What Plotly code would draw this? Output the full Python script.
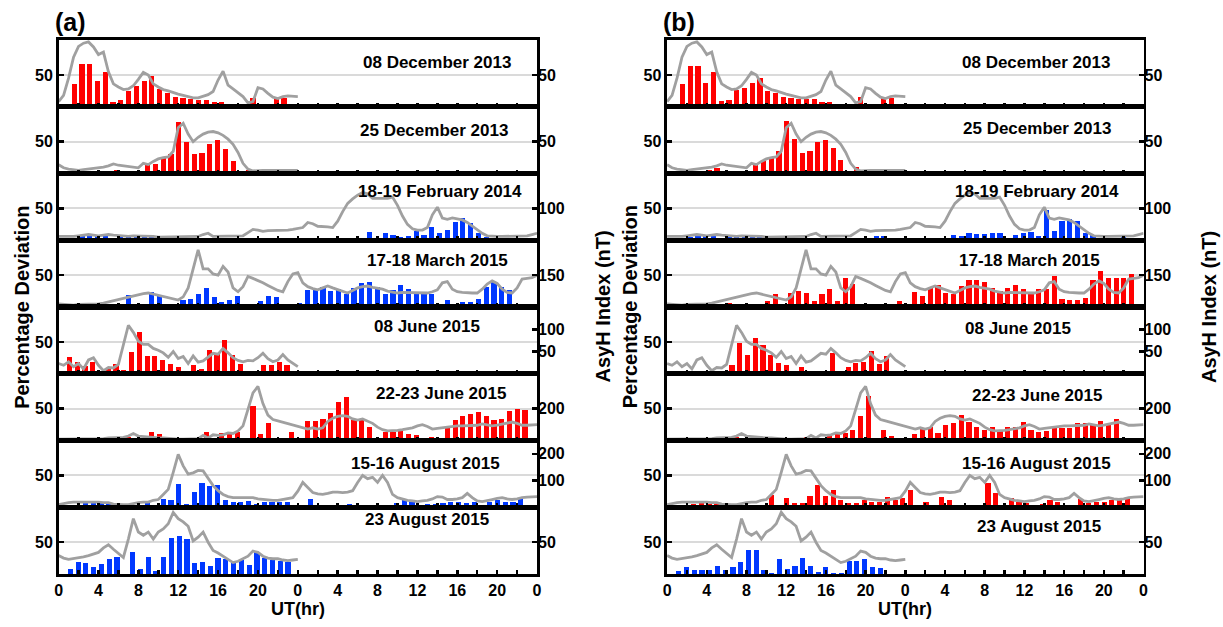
import plotly.graph_objects as go

W, H = 1223, 627

# ---------------- data ----------------
dates = ["08 December 2013", "25 December 2013", "18-19 February 2014", "17-18 March 2015",
         "08 June 2015", "22-23 June 2015", "15-16 August 2015", "23 August 2015"]
ndays = [1, 1, 2, 2, 1, 2, 2, 1]
asyh_max = [105, 105, 210, 315, 150, 420, 250, 105]
asyh_ticks = [[50], [50], [100], [150], [50, 100], [200], [100, 200], [50]]
bar_t0 = [0.0, 0.35, 0.0, 0.0, 0.3, 0.0, 0.35, 0.4]
colors_a = ["red", "red", "blue", "blue", "red", "red", "blue", "blue"]
colors_b = ["red", "red", "blue", "red", "red", "red", "red", "blue"]

# AsyH index (nT), half-hourly samples from 0 UT
asyh_1 = [8, 18, 45, 78, 95, 100, 102, 94, 82, 86, 55, 36, 31, 27, 28, 33, 43, 54, 50, 36,
          31, 27, 25, 22, 20, 18, 16, 14, 14, 16, 19, 24, 42, 56, 34, 28, 22, 16, 6, 8,
          30, 28, 21, 15, 13, 16, 17, 17, 16]
asyh_2 = [14, 9, 7, 6, 5, 6, 7, 8, 8, 10, 12, 15, 13, 12, 11, 10, 9, 16, 14, 19,
          23, 25, 26, 35, 72, 79, 62, 50, 57, 62, 65, 66, 64, 60, 54, 46, 33, 16, 7, 4,
          5, 5, 5, 5, 5, 6, 5, 5, 5]
asyh_3 = [12, 12, 10, 12, 14, 16, 18, 16, 14, 16, 18, 16, 14, 12, 12, 14, 14, 12, 12, 12,
          10, 10, 12, 12, 12, 10, 10, 10, 12, 18, 22, 12, 12, 14, 14, 14, 14, 14, 24, 34,
          32, 28, 30, 30, 30, 32, 32, 34, 36, 40, 56, 52, 44, 44, 42, 40, 60, 90, 116, 130,
          142, 150, 146, 132, 132, 134, 132, 136, 110, 76, 50, 36, 32, 32, 40, 80, 104, 70, 66, 70,
          68, 64, 56, 44, 32, 22, 14, 12, 12, 12, 12, 12, 12, 14, 14, 18, 22]
asyh_4 = [15, 12, 9, 9, 12, 12, 15, 15, 15, 18, 24, 27, 33, 39, 48, 51, 57, 63, 66, 60,
          57, 48, 42, 36, 33, 48, 90, 180, 270, 180, 180, 156, 150, 192, 165, 90, 72, 96, 144, 135,
          126, 114, 102, 90, 78, 72, 120, 156, 162, 114, 96, 87, 81, 90, 99, 90, 81, 75, 66, 78,
          90, 96, 99, 93, 90, 84, 75, 69, 66, 69, 69, 69, 66, 66, 66, 72, 81, 114, 120, 84,
          72, 69, 66, 66, 66, 84, 108, 123, 111, 84, 69, 66, 90, 132, 135, 138, 150]
asyh_5 = [23, 19, 27, 16, 23, 11, 31, 36, 19, 7, 14, 13, 21, 64, 109, 93, 73, 66, 66, 57,
          53, 47, 37, 50, 34, 39, 23, 40, 26, 29, 37, 46, 44, 57, 47, 36, 30, 27, 30, 29,
          36, 46, 34, 27, 31, 43, 31, 23, 16]
asyh_6 = [8, 8, 8, 8, 8, 8, 12, 12, 12, 12, 16, 16, 16, 20, 28, 44, 28, 24, 24, 20,
          16, 16, 12, 12, 8, 8, 8, 12, 12, 32, 16, 36, 32, 36, 48, 44, 60, 92, 192, 300,
          340, 232, 160, 132, 124, 116, 108, 100, 92, 80, 72, 80, 72, 80, 120, 140, 152, 156, 152, 136,
          128, 136, 124, 108, 84, 68, 60, 60, 64, 68, 72, 80, 92, 100, 88, 72, 76, 80, 84, 92,
          92, 92, 92, 92, 96, 104, 100, 92, 96, 104, 108, 116, 108, 96, 96, 100, 100]
asyh_7 = [10, 14, 17, 19, 19, 21, 21, 19, 19, 17, 17, 12, 10, 10, 10, 14, 17, 19, 19, 26,
          29, 48, 67, 131, 198, 155, 124, 129, 138, 136, 107, 81, 62, 48, 40, 36, 36, 36, 36, 36,
          31, 29, 26, 26, 26, 29, 31, 36, 60, 93, 74, 55, 50, 48, 52, 57, 57, 55, 57, 62,
          93, 119, 107, 112, 93, 119, 93, 48, 36, 31, 26, 24, 21, 24, 26, 31, 40, 38, 29, 29,
          31, 36, 52, 36, 24, 21, 24, 29, 33, 36, 31, 29, 31, 36, 38, 40, 40]
asyh_8 = [29, 25, 23, 24, 25, 27, 29, 31, 34, 41, 46, 39, 32, 26, 55, 87, 66, 61, 66, 55,
          66, 71, 79, 97, 87, 82, 75, 52, 58, 66, 50, 37, 33, 28, 23, 18, 20, 24, 28, 36,
          34, 28, 25, 24, 24, 22, 21, 22, 23]

# Percentage deviation, panel (a)
pct_a_1 = [0, 0, 36, 68, 68, 41, 55, 8, 10, 25, 32, 40, 48, 28, 21, 15, 13, 12, 11, 11, 8, 8, 4, 0, 0, 14, 0, 0, 13, 13, 0]
pct_a_2 = [0, 0, 3, 3, 4, 4, 0, 6, 0, 3, 0, 13, 15, 25, 30, 81, 50, 30, 33, 47, 52, 38, 20, 0, 6, 5, 5, 5, 6, 6, 0]
pct_a_3 = [0, 0, 4, 6, 8, 8, 6, 4, 5, 7, 8, 6, 7, 7, 6, 4, 0, 0, 0, 0,
           2, 0, 0, 0, 0, 3, 0, 0, 0, 0, 0, 2, 0, 2, 0, 0, 3, 0, 0, 4,
           13, 4, 11, 8, 5, 7, 14, 8, 21, 12, 16, 28, 35, 27, 12, 5, 0, 0, 0, 0, 0, 0]
pct_a_4 = [0, 0, 0, 0, 0, 0, 0, 0, 0, 19, 5, 5, 24, 18, 0, 0, 11, 12, 21, 30,
           15, 8, 11, 17, 5, 4, 9, 17, 15, 0, 5, 7, 27, 27, 32, 25, 28, 21, 30, 37,
           40, 32, 20, 27, 35, 28, 21, 21, 20, 4, 11, 0, 8, 8, 13, 32, 39, 32, 27, 0, 0, 0]
pct_a_5 = [0, 27, 18, 12, 19, 0, 7, 15, 6, 35, 66, 28, 28, 22, 16, 11, 0, 14, 8, 37, 32, 53, 30, 15, 3, 0, 13, 13, 19, 13, 0]
pct_a_6 = [0, 0, 0, 0, 0, 0, 0, 4, 0, 6, 0, 4, 13, 10, 6, 4, 3, 3, 0, 14,
           0, 12, 12, 14, 0, 55, 10, 28, 0, 3, 14, 0, 31, 30, 34, 44, 60, 69, 32, 34,
           22, 0, 13, 13, 17, 10, 8, 3, 6, 0, 20, 33, 38, 42, 45, 39, 32, 34, 47, 50, 48, 0]
pct_a_7 = [0, 2, 4, 7, 7, 7, 5, 2, 0, 0, 2, 6, 0, 13, 12, 37, 5, 24, 38, 34,
           35, 12, 8, 8, 10, 5, 8, 8, 8, 8, 0, 2, 13, 4, 2, 0, 0, 5, 4, 1,
           4, 4, 0, 7, 12, 8, 4, 5, 5, 7, 8, 8, 7, 8, 0, 8, 11, 9, 9, 13, 0, 0]
pct_a_8 = [0, 8, 19, 17, 11, 15, 24, 26, 0, 35, 8, 27, 4, 27, 56, 59, 55, 17, 19, 12, 25, 24, 17, 22, 14, 34, 25, 22, 21, 19, 0]

# Percentage deviation, panel (b)
pct_b_1 = [0, 0, 36, 64, 64, 38, 54, 9, 10, 26, 29, 37, 45, 25, 22, 15, 13, 12, 12, 12, 8, 8, 5, 0, 0, 15, 0, 0, 14, 14, 0]
pct_b_2 = [0, 1, 3, 3, 3, 5, 8, 0, 3, 4, 0, 16, 19, 26, 35, 83, 55, 33, 35, 50, 53, 40, 22, 0, 11, 4, 3, 3, 7, 7, 0]
pct_b_3 = [0, 0, 3, 5, 6, 7, 6, 4, 5, 6, 5, 6, 6, 7, 6, 5, 3, 0, 1, 2,
           2, 2, 0, 0, 0, 0, 3, 6, 6, 0, 0, 2, 0, 0, 2, 0, 3, 9, 7, 11,
           10, 10, 12, 11, 0, 9, 12, 13, 6, 47, 15, 30, 33, 31, 12, 8, 4, 3, 4, 5, 4, 0]
pct_b_4 = [0, 0, 0, 0, 0, 0, 3, 5, 7, 3, 4, 0, 5, 10, 20, 5, 22, 25, 22, 9,
           20, 28, 9, 45, 36, 5, 0, 4, 0, 5, 10, 0, 24, 17, 30, 35, 22, 20, 33, 43,
           43, 40, 30, 25, 30, 35, 28, 24, 28, 28, 48, 12, 11, 11, 14, 43, 57, 45, 45, 45, 52, 0]
pct_b_5 = [0, 0, 5, 5, 0, 0, 0, 5, 13, 48, 30, 56, 46, 30, 17, 13, 2, 11, 0, 5, 3, 32, 0, 11, 17, 19, 36, 15, 28, 0, 0]
pct_b_6 = [0, 0, 0, 0, 0, 0, 0, 0, 0, 5, 4, 2, 2, 1, 1, 0, 0, 0, 5, 0,
           0, 7, 10, 12, 17, 38, 70, 4, 16, 7, 4, 0, 11, 20, 22, 12, 24, 27, 40, 29,
           21, 16, 21, 16, 21, 21, 29, 17, 13, 15, 20, 20, 20, 27, 27, 25, 31, 25, 34, 0, 0, 0]
pct_b_7 = [0, 0, 0, 5, 7, 5, 7, 4, 2, 0, 2, 1, 1, 20, 0, 15, 7, 7, 17, 35,
           18, 27, 12, 7, 7, 11, 8, 8, 16, 11, 15, 27, 0, 8, 0, 16, 12, 0, 4, 1,
           0, 38, 23, 4, 15, 9, 7, 4, 5, 12, 8, 4, 2, 13, 7, 8, 8, 11, 11, 16, 0, 0]
pct_b_8 = [0, 4, 11, 6, 6, 6, 13, 6, 11, 19, 37, 38, 6, 2, 24, 8, 13, 25, 12, 3, 11, 2, 2, 21, 21, 23, 11, 9, 0, 0, 0]

asyh = [asyh_1, asyh_2, asyh_3, asyh_4, asyh_5, asyh_6, asyh_7, asyh_8]
pct = [[pct_a_1, pct_a_2, pct_a_3, pct_a_4, pct_a_5, pct_a_6, pct_a_7, pct_a_8],
       [pct_b_1, pct_b_2, pct_b_3, pct_b_4, pct_b_5, pct_b_6, pct_b_7, pct_b_8]]
bar_colors = [colors_a, colors_b]

# ---------------- layout / styling ----------------
BAR_DT = 0.78     # hours between bar bins
BAR_W = 0.52
COLOR = {"red": "#ff0000", "blue": "#0038ff"}
GRAY = "#a0a0a0"
FONT = "Liberation Sans, Arial, Helvetica, sans-serif"
col_x = [(55, 537), (668, 1148)]
TOP, PH = 40.0, 66.75
date_pos = [[(436, 63), (433, 130), (439, 191), (437, 260), (426, 326), (440, 393), (425, 463), (426, 519)],
            [(1040, 63), (1041, 129), (1041, 191), (1033, 260), (1022, 328), (1041, 395), (1040, 463), (1043, 526)]]

fig = go.Figure()
layout = {}
annotations = []

for c in range(2):
    x0, x1 = col_x[c]
    for r in range(8):
        i = c * 8 + r
        n = i + 1
        ns = n + 16
        xname = "xaxis" if n == 1 else f"xaxis{n}"
        yname = "yaxis" if n == 1 else f"yaxis{n}"
        y2name = f"yaxis{ns}"
        xid = "x" if n == 1 else f"x{n}"
        yid = "y" if n == 1 else f"y{n}"
        y2id = f"y{ns}"
        top = TOP + r * PH
        bot = top + PH
        ydom = [1 - bot / H, 1 - top / H]

        tv = list(range(0, 49, 2))
        tt = [str(v % 24) if v % 4 == 0 else "" for v in tv]
        layout[xname] = dict(
            domain=[x0 / W, x1 / W], range=[0, 48], anchor=yid,
            tickvals=tv, ticktext=tt, ticks="inside", ticklen=4, tickwidth=2.5, tickcolor="black",
            showticklabels=(r == 7), tickfont=dict(family=FONT, size=16, color="black", weight="bold"),
            showline=True, linewidth=2.6, linecolor="black", mirror=True,
            showgrid=False, zeroline=False, fixedrange=True)
        layout[yname] = dict(
            domain=ydom, range=[0, 105], anchor=xid,
            tickvals=[50], ticks="inside", ticklen=5, tickwidth=2.5, tickcolor="black",
            tickfont=dict(family=FONT, size=16, color="black", weight="bold"),
            showline=True, linewidth=2.6, linecolor="black", mirror=True,
            showgrid=True, gridcolor="#dadada", gridwidth=2, zeroline=False, fixedrange=True)
        layout[y2name] = dict(
            range=[0, asyh_max[r]], overlaying=yid, side="right", anchor=xid,
            tickvals=asyh_ticks[r], ticks="inside", ticklen=5, tickwidth=2.5, tickcolor="black",
            tickfont=dict(family=FONT, size=16, color="black", weight="bold"),
            showline=False, showgrid=False, zeroline=False, fixedrange=True)

        vals = pct[c][r]
        fig.add_trace(go.Bar(
            x=[bar_t0[r] + k * BAR_DT for k in range(len(vals))], y=vals,
            width=BAR_W, marker=dict(color=COLOR[bar_colors[c][r]], line=dict(width=0)),
            xaxis=xid, yaxis=yid, showlegend=False, hoverinfo="skip"))
        a = asyh[r]
        fig.add_trace(go.Scatter(
            x=[0.5 * j for j in range(len(a))], y=a, mode="lines",
            line=dict(color=GRAY, width=2.8), xaxis=xid, yaxis=y2id, showlegend=False,
            hoverinfo="skip"))

        dx, dy = date_pos[c][r]
        annotations.append(dict(
            text=dates[r], x=dx / W, y=1 - dy / H, xref="paper", yref="paper",
            xanchor="center", yanchor="middle", showarrow=False,
            font=dict(family=FONT, size=17, color="black", weight="bold")))

    # column decorations
    annotations.append(dict(text="(a)" if c == 0 else "(b)", x=(x0 + 12) / W, y=1 - 22 / H,
                            xref="paper", yref="paper", xanchor="center", yanchor="middle",
                            showarrow=False, font=dict(family=FONT, size=25, color="black", weight="bold")))
    annotations.append(dict(text="Percentage Deviation", x=(x0 - 37) / W, y=1 - 307 / H,
                            xref="paper", yref="paper", xanchor="center", yanchor="middle", textangle=-90,
                            showarrow=False, font=dict(family=FONT, size=20, color="black", weight="bold")))
    annotations.append(dict(text="AsyH Index (nT)", x=(x1 + 66) / W, y=1 - 307 / H,
                            xref="paper", yref="paper", xanchor="center", yanchor="middle", textangle=-90,
                            showarrow=False, font=dict(family=FONT, size=20, color="black", weight="bold")))
    annotations.append(dict(text="UT(hr)", x=((x0 + x1) / 2) / W, y=1 - 609 / H,
                            xref="paper", yref="paper", xanchor="center", yanchor="middle",
                            showarrow=False, font=dict(family=FONT, size=18, color="black", weight="bold")))

fig.update_layout(
    width=W, height=H, autosize=False,
    margin=dict(l=0, r=0, t=0, b=0),
    paper_bgcolor="white", plot_bgcolor="white",
    showlegend=False, bargap=0, annotations=annotations, **layout)

fig.write_html("out.html", config={"displayModeBar": False, "staticPlot": True},
               post_script="document.body.style.margin='0';document.body.style.overflow='hidden';")
